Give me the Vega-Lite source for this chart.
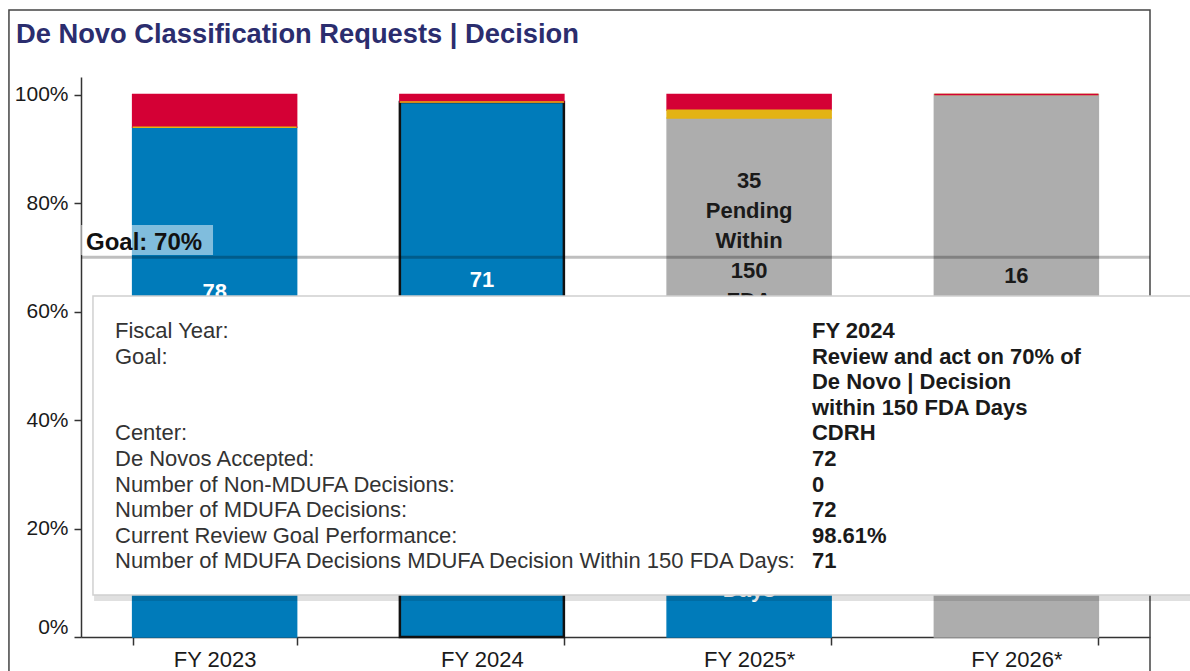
{
  "$schema": "https://vega.github.io/schema/vega-lite/v6.json",
  "width": 1069,
  "height": 560,
  "autosize": {"type": "none"},
  "padding": {"left": 81, "top": 77, "right": 40, "bottom": 34},
  "background": "#ffffff",
  "config": {
    "view": {"stroke": null},
    "font": "Liberation Sans",
    "axis": {"labelFont": "Liberation Sans"},
    "axisY": {
      "grid": false,
      "labelFlush": true,
      "tickSize": 7,
      "labelPadding": 6,
      "labelFontSize": 21,
      "labelColor": "#1a1a1a",
      "domainColor": "#333333",
      "tickColor": "#333333",
      "domainWidth": 1.5,
      "tickWidth": 1.5
    },
    "text": {"font": "Liberation Sans"}
  },
  "title": {
    "text": "De Novo Classification Requests | Decision",
    "anchor": "start",
    "frame": "group",
    "orient": "top",
    "dx": -65,
    "dy": 26,
    "offset": -35,
    "baseline": "alphabetic",
    "font": "Liberation Sans",
    "fontSize": 27.3,
    "fontWeight": "bold",
    "color": "#2b2d6e"
  },
  "datasets": {
    "bars": [
      {"year": "FY 2023", "status": "Decision Within 150 FDA Days", "count": 78, "label": ["78", "MDUFA", "Decisions", "Within", "150", "FDA", "Days"]},
      {"year": "FY 2023", "status": "Decision Over 150 FDA Days", "count": 5},
      {"year": "FY 2023", "status": "Pending Over 150 FDA Days", "count": 0},
      {"year": "FY 2024", "status": "Decision Within 150 FDA Days", "count": 71, "label": ["71", "MDUFA", "Decisions", "Within", "150", "FDA", "Days"]},
      {"year": "FY 2024", "status": "Decision Over 150 FDA Days", "count": 1},
      {"year": "FY 2024", "status": "Pending Over 150 FDA Days", "count": 0},
      {"year": "FY 2025*", "status": "Decision Within 150 FDA Days", "count": 31, "label": ["31", "Decisions", "Within", "150", "FDA", "Days"]},
      {"year": "FY 2025*", "status": "Pending Within 150 FDA Days", "count": 35, "label": ["35", "Pending", "Within", "150", "FDA", "Days"]},
      {"year": "FY 2025*", "status": "Decision Over 150 FDA Days", "count": 2},
      {"year": "FY 2025*", "status": "Pending Over 150 FDA Days", "count": 1},
      {"year": "FY 2026*", "status": "Pending Within 150 FDA Days", "count": 16, "label": ["16", "Pending", "Within", "150", "FDA", "Days", "\u200b"]},
      {"year": "FY 2026*", "status": "Pending Over 150 FDA Days", "count": 0},
      {"year": "FY 2026*", "status": "Decision Over 150 FDA Days", "count": 0}
    ],
    "goal": [{"goal": 0.7, "label": "Goal: 70%"}],
    "tooltip": [
      {"part": "label", "lines": ["Fiscal Year:", "Goal:", "\u200b", "\u200b", "Center:", "De Novos Accepted:", "Number of Non-MDUFA Decisions:", "Number of MDUFA Decisions:", "Current Review Goal Performance:", "Number of MDUFA Decisions MDUFA Decision Within 150 FDA Days:"]},
      {"part": "value", "lines": ["FY 2024", "Review and act on 70% of", "De Novo | Decision", "within 150 FDA Days", "CDRH", "72", "0", "72", "98.61%", "71"]}
    ]
  },
  "layer": [
    {
      "data": {"name": "bars"},
      "transform": [
        {"calculate": "indexof(['Decision Within 150 FDA Days', 'Pending Within 150 FDA Days', 'Pending Over 150 FDA Days', 'Decision Over 150 FDA Days'], datum.status)", "as": "stackOrder"},
        {"stack": "count", "groupby": ["year"], "sort": [{"field": "stackOrder", "order": "ascending"}], "offset": "normalize", "as": ["y0", "y1"]},
        {"calculate": "(datum.y0 + datum.y1) / 2", "as": "ymid"}
      ],
      "encoding": {
        "x": {
          "field": "year",
          "type": "nominal",
          "scale": {"paddingInner": 0.3863, "paddingOuter": 0.1932},
          "axis": {
            "title": null,
            "labelAngle": 0,
            "tickBand": "extent",
            "tickSize": 8,
            "labelPadding": 4,
            "labelFontSize": 22,
            "labelColor": "#1a1a1a",
            "domainColor": "#333333",
            "tickColor": "#333333",
            "domainWidth": 1.5,
            "tickWidth": 1.5,
            "grid": false
          }
        }
      },
      "layer": [
        {
          "mark": {"type": "bar"},
          "encoding": {
            "y": {
              "field": "y0",
              "type": "quantitative",
              "scale": {"domain": [0, 1.0323], "nice": false, "zero": true},
              "axis": {"title": null, "values": [0, 0.2, 0.4, 0.6, 0.8, 1], "format": ".0%"}
            },
            "y2": {"field": "y1"},
            "color": {
              "field": "status",
              "type": "nominal",
              "scale": {
                "domain": ["Decision Within 150 FDA Days", "Pending Within 150 FDA Days", "Pending Over 150 FDA Days", "Decision Over 150 FDA Days"],
                "range": ["#007BBA", "#ADADAD", "#E3B314", "#D40035"]
              },
              "legend": null
            },
            "stroke": {
              "condition": {"test": "datum.year === 'FY 2024' && datum.status === 'Decision Within 150 FDA Days'", "value": "#111111"},
              "field": "status",
              "type": "nominal",
              "scale": {
                "domain": ["Decision Within 150 FDA Days", "Pending Within 150 FDA Days", "Pending Over 150 FDA Days", "Decision Over 150 FDA Days"],
                "range": ["#007BBA", "#ADADAD", "#E3B314", "#D40035"]
              },
              "legend": null
            },
            "strokeWidth": {
              "condition": {"test": "datum.year === 'FY 2024' && datum.status === 'Decision Within 150 FDA Days'", "value": 2.5},
              "value": 1.5
            }
          }
        },
        {
          "transform": [
            {"filter": "datum.label != null"},
            {"calculate": "datum.ymid + (length(datum.label) - 1) / 2 * 0.0553", "as": "ylabel"}
          ],
          "mark": {"type": "text", "fontSize": 22, "fontWeight": "bold", "lineHeight": 30, "baseline": "middle", "align": "center"},
          "encoding": {
            "y": {"field": "ylabel", "type": "quantitative", "scale": {"domain": [0, 1.0323], "nice": false, "zero": true}, "axis": {"title": null, "values": [0, 0.2, 0.4, 0.6, 0.8, 1], "format": ".0%"}},
            "text": {"field": "label", "type": "nominal"},
            "color": {
              "condition": {"test": "datum.status === 'Decision Within 150 FDA Days'", "value": "#ffffff"},
              "value": "#1a1a1a"
            }
          }
        }
      ]
    },
    {
      "data": {"name": "goal"},
      "layer": [
        {
          "mark": {"type": "rect", "fill": "transparent", "stroke": "#444444", "strokeWidth": 1.5},
          "encoding": {
            "x": {"datum": -0.0674, "type": "quantitative", "scale": {"domain": [0, 1], "nice": false, "zero": false}, "axis": null},
            "x2": {"datum": 1},
            "y": {"datum": 1.1558, "type": "quantitative", "scale": {"domain": [0, 1.0323], "nice": false, "zero": true}, "axis": {"title": null, "values": [0, 0.2, 0.4, 0.6, 0.8, 1], "format": ".0%"}},
            "y2": {"datum": -0.12}
          }
        },
        {
          "mark": {"type": "rule", "color": "#000000", "opacity": 0.25, "strokeWidth": 3},
          "encoding": {
            "y": {"field": "goal", "type": "quantitative", "scale": {"domain": [0, 1.0323], "nice": false, "zero": true}, "axis": {"title": null, "values": [0, 0.2, 0.4, 0.6, 0.8, 1], "format": ".0%"}}
          }
        },
        {
          "mark": {"type": "rect", "fill": "#ffffff", "opacity": 0.5},
          "encoding": {
            "x": {"datum": 0, "type": "quantitative", "scale": {"domain": [0, 1], "nice": false, "zero": false}, "axis": null},
            "x2": {"datum": 0.1235},
            "y": {"datum": 0.7594, "type": "quantitative", "scale": {"domain": [0, 1.0323], "nice": false, "zero": true}, "axis": {"title": null, "values": [0, 0.2, 0.4, 0.6, 0.8, 1], "format": ".0%"}},
            "y2": {"datum": 0.7041}
          }
        },
        {
          "mark": {"type": "text", "align": "left", "baseline": "alphabetic", "fontSize": 24, "fontWeight": "bold", "color": "#111111"},
          "encoding": {
            "x": {"datum": 0.0047, "type": "quantitative", "scale": {"domain": [0, 1], "nice": false, "zero": false}, "axis": null},
            "y": {"datum": 0.7134, "type": "quantitative", "scale": {"domain": [0, 1.0323], "nice": false, "zero": true}, "axis": {"title": null, "values": [0, 0.2, 0.4, 0.6, 0.8, 1], "format": ".0%"}},
            "text": {"field": "label", "type": "nominal"}
          }
        },
        {
          "mark": {"type": "rect", "fill": "#000000", "opacity": 0.12},
          "encoding": {
            "x": {"datum": 0.0122, "type": "quantitative", "scale": {"domain": [0, 1], "nice": false, "zero": false}, "axis": null},
            "x2": {"datum": 1.08},
            "y": {"datum": 0.6268, "type": "quantitative", "scale": {"domain": [0, 1.0323], "nice": false, "zero": true}, "axis": {"title": null, "values": [0, 0.2, 0.4, 0.6, 0.8, 1], "format": ".0%"}},
            "y2": {"datum": 0.0664}
          }
        },
        {
          "mark": {"type": "rect", "fill": "#ffffff", "stroke": "#d0d0d0", "strokeWidth": 1.5},
          "encoding": {
            "x": {"datum": 0.0112, "type": "quantitative", "scale": {"domain": [0, 1], "nice": false, "zero": false}, "axis": null},
            "x2": {"datum": 1.08},
            "y": {"datum": 0.6286, "type": "quantitative", "scale": {"domain": [0, 1.0323], "nice": false, "zero": true}, "axis": {"title": null, "values": [0, 0.2, 0.4, 0.6, 0.8, 1], "format": ".0%"}},
            "y2": {"datum": 0.0774}
          }
        },
        {
          "data": {"name": "tooltip"},
          "transform": [{"filter": "datum.part === 'label'"}],
          "mark": {"type": "text", "align": "left", "baseline": "alphabetic", "fontSize": 22, "lineHeight": 25.6, "color": "#333333"},
          "encoding": {
            "x": {"datum": 0.0318, "type": "quantitative", "scale": {"domain": [0, 1], "nice": false, "zero": false}, "axis": null},
            "y": {"datum": 0.5512, "type": "quantitative", "scale": {"domain": [0, 1.0323], "nice": false, "zero": true}, "axis": {"title": null, "values": [0, 0.2, 0.4, 0.6, 0.8, 1], "format": ".0%"}},
            "text": {"field": "lines", "type": "nominal"}
          }
        },
        {
          "data": {"name": "tooltip"},
          "transform": [{"filter": "datum.part === 'value'"}],
          "mark": {"type": "text", "align": "left", "baseline": "alphabetic", "fontSize": 22, "fontWeight": "bold", "lineHeight": 25.6, "color": "#1a1a1a"},
          "encoding": {
            "x": {"datum": 0.6838, "type": "quantitative", "scale": {"domain": [0, 1], "nice": false, "zero": false}, "axis": null},
            "y": {"datum": 0.5512, "type": "quantitative", "scale": {"domain": [0, 1.0323], "nice": false, "zero": true}, "axis": {"title": null, "values": [0, 0.2, 0.4, 0.6, 0.8, 1], "format": ".0%"}},
            "text": {"field": "lines", "type": "nominal"}
          }
        }
      ]
    }
  ],
  "resolve": {"scale": {"x": "independent"}}
}
